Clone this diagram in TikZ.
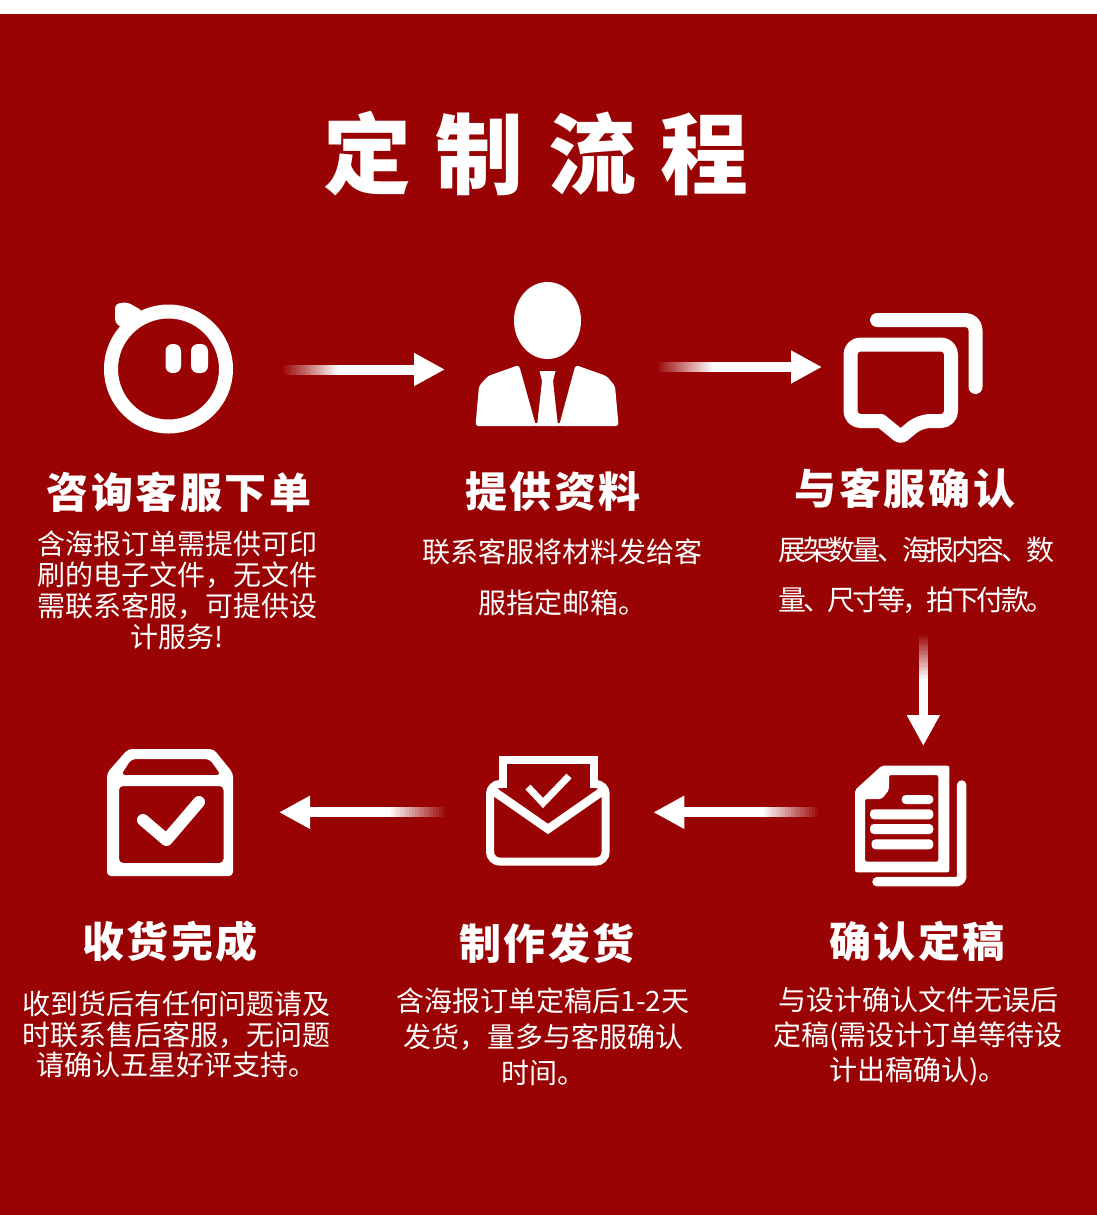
\documentclass[tikz,border=0pt]{standalone}
\usepackage{fontspec}
\setmainfont{Noto Sans CJK SC}
\newfontfamily\titlefont[LetterSpace=28]{Noto Sans CJK SC}
\newfontfamily\headfont[LetterSpace=6]{Noto Sans CJK SC}
\newfontfamily\tightfont[LetterSpace=-11.5]{Noto Sans CJK SC}
\usetikzlibrary{arrows.meta}
\definecolor{BrandRed}{HTML}{990303}
\tikzset{
  titletext/.style={font=\titlefont\fontsize{88}{92}\selectfont\bfseries, text=white, inner sep=0pt},
  stephead/.style={font=\headfont\fontsize{42}{46}\selectfont\bfseries, text=white, inner sep=0pt},
  stepnote/.style={font=\fontsize{28}{31}\selectfont, text=white, inner sep=0pt, align=center},
  iconline/.style={draw=white, line width=14pt, line cap=round, line join=round},
  iconfill/.style={fill=white, draw=none},
  flow/.style={draw=white, line width=10pt, -{Triangle[length=31pt, width=31pt]}},
}

\begin{document}
\begin{tikzpicture}[x=1pt, y=-1pt]
\useasboundingbox (0,0) rectangle (1097,1215);
\fill[white] (0,0) rectangle (1097,14);
\fill[BrandRed] (0,14) rectangle (1097,1215);
% title
\node[titletext] (title) at (536,154) {定制流程};
% face
\draw[iconline] (168.5,369) circle (57.5);
\fill[iconfill, rounded corners=4pt] (115,304) -- (127,302) -- (143,311) -- (136,323) -- (124,329) -- (115,323) -- cycle;
\fill[iconfill, rounded corners=7pt] (165.5,344) rectangle (181,373);
\fill[iconfill, rounded corners=7pt] (191,344) rectangle (208,373);
% person
\fill[iconfill] (547.5,320.5) ellipse (33.5 and 38.5);
\fill[iconfill, rounded corners=3pt] (519,365) -- (536,426) -- (479,426) -- (475.5,426) -- (479,386) -- (488,376) -- cycle;
\fill[iconfill, rounded corners=3pt] (575.5,365) -- (559,426) -- (618.6,426) -- (615,386) -- (606.5,376) -- cycle;
\fill[iconfill] (539.5,371) -- (555.5,371) -- (553,381) -- (558,426) -- (537,426) -- (542,381) -- cycle;
\fill[iconfill] (530,423) rectangle (565,426);
% chat
\draw[iconline, rounded corners=10pt] (881,421) -- (850.5,421) -- (850.5,344.5) -- (951,344.5) -- (951,421) -- (920,421) [rounded corners=3pt] -- (900.7,437) -- (881,421);
\draw[iconline, rounded corners=10pt] (877,320) -- (975.5,320) -- (975.5,387);
% document
\fill[iconfill, even odd rule, rounded corners=2pt] (881.7,765.7) -- (949.3,765.7) -- (949.3,872.3) -- (855,872.3) -- (855,790) -- cycle
  (889,775) -- (938.3,775) -- (938.3,861.7) -- (865,861.7) -- (865,799) -- (881.7,799) -- (889,790) -- cycle;
\fill[iconfill, rounded corners=4pt] (901.7,795) rectangle (933.3,804);
\fill[iconfill, rounded corners=4pt] (870,809.3) rectangle (933.3,819.3);
\fill[iconfill, rounded corners=4pt] (870,824) rectangle (933.3,834);
\fill[iconfill, rounded corners=4pt] (871.5,839.3) rectangle (933.3,849.3);
\draw[iconline, line width=9.5pt, rounded corners=5pt] (961.7,785) -- (961.7,881.7) -- (877,881.7);
% envelope
\draw[iconline, line width=8pt, line cap=butt, line join=miter, rounded corners=10pt] (502,784) -- (490,784) -- (490,861.7) -- (605.7,861.7) -- (605.7,784) -- (594,784);
\draw[iconline, line width=8pt, line cap=butt, line join=miter] (502.6,788) -- (502.6,760) -- (593.6,760) -- (593.6,788);
\draw[iconline, line width=8.5pt, line cap=butt, line join=miter] (492,790) -- (548,829) -- (604,790);
\draw[iconline, line width=7pt, line cap=butt, line join=miter] (528,787) -- (543,803) -- (569,776);
% box
\fill[iconfill, even odd rule, rounded corners=4pt] (128,749) -- (213.5,749) -- (233,773) -- (233,876) -- (107,876) -- (107,773) -- cycle
  (131.5,759) -- (209.5,759) -- (221,775) -- (121,775) -- cycle
  (119,786) -- (223.5,786) -- (223.5,863) -- (119,863) -- cycle;
\draw[iconline, line width=12pt] (143,820) -- (166.5,840) -- (199,802);
% arrows
\coordinate (flowAs) at (340,369.5);
\coordinate (flowAe) at (445,369.5);
\coordinate (flowBs) at (712,367);
\coordinate (flowBe) at (822,367);
\coordinate (flowCs) at (923.3,680);
\coordinate (flowCe) at (923.3,746);
\coordinate (flowDs) at (762,812.3);
\coordinate (flowDe) at (653.3,812.3);
\coordinate (flowEs) at (389,812.3);
\coordinate (flowEe) at (279,812.3);
\foreach \k [evaluate=\k as \mix using \k*100/19] in {0,...,19} {
  \fill[white!\mix!BrandRed] ({281+3*\k},364.5) rectangle ++(3.5,10);
  \fill[white!\mix!BrandRed] ({655+3*\k},362) rectangle ++(3.5,10);
  \fill[white!\mix!BrandRed] (918.6,{633+2.4*\k}) rectangle ++(9.4,2.9);
  \fill[white!\mix!BrandRed] ({817-3*\k},807.3) rectangle ++(3.5,10);
  \fill[white!\mix!BrandRed] ({444-3*\k},807.3) rectangle ++(3.5,10);
}
\draw[flow] (flowAs) -- (flowAe);
\draw[flow] (flowBs) -- (flowBe);
\draw[flow, line width=9.5pt] (flowCs) -- (flowCe);
\draw[flow] (flowDs) -- (flowDe);
\draw[flow] (flowEs) -- (flowEe);
% top row
\node[stephead] (headA) at (179,492) {咨询客服下单};
\node[stephead] (headB) at (553,492) {提供资料};
\node[stephead] (headC) at (905,488) {与客服确认};
\node[stepnote] (noteA) at (177,590) {含海报订单需提供可印\\刷的电子文件^^^^ff0c无文件\\需联系客服^^^^ff0c可提供设\\计服务!};
\node[stepnote, font=\fontsize{28}{51}\selectfont] (noteB) at (562,577.5) {联系客服将材料发给客\\服指定邮箱。};
\node[stepnote, anchor=west, align=left, font=\tightfont\fontsize{28}{50}\selectfont] (noteC) at (778,575.5) {展架数量、海报内容、数\\量、尺寸等^^^^ff0c拍下付款。};
% bottom row
\node[stephead] (headD) at (170,941) {收货完成};
\node[stephead] (headE) at (547,943) {制作发货};
\node[stephead] (headF) at (917,941) {确认定稿};
\node[stepnote, font=\fontsize{28}{30.5}\selectfont] (noteD) at (176,1034.5) {收到货后有任何问题请及\\时联系售后客服^^^^ff0c无问题\\请确认五星好评支持。};
\node[stepnote, font=\fontsize{28}{36}\selectfont] (noteE) at (543,1037) {含海报订单定稿后1-2天\\发货^^^^ff0c量多与客服确认\\时间。};
\node[stepnote, font=\fontsize{28}{35}\selectfont] (noteF) at (918,1036) {与设计确认文件无误后\\定稿(需设计订单等待设\\计出稿确认)。};
\end{tikzpicture}
\end{document}
